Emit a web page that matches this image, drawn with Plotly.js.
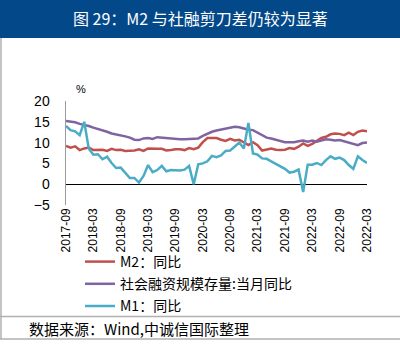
<!DOCTYPE html>
<html><head><meta charset="utf-8">
<script src="https://cdn.plot.ly/plotly-3.0.1.min.js"></script>
<style>html,body{margin:0;padding:0;background:#fff;}#chart{width:400px;height:351px;}</style>
</head><body><div id="chart"></div>
<script>
// Monthly categories 2017-09 .. 2023-03
const months = [
 "2017-09","2017-10","2017-11","2017-12",
 "2018-01","2018-02","2018-03","2018-04","2018-05","2018-06","2018-07","2018-08","2018-09","2018-10","2018-11","2018-12",
 "2019-01","2019-02","2019-03","2019-04","2019-05","2019-06","2019-07","2019-08","2019-09","2019-10","2019-11","2019-12",
 "2020-01","2020-02","2020-03","2020-04","2020-05","2020-06","2020-07","2020-08","2020-09","2020-10","2020-11","2020-12",
 "2021-01","2021-02","2021-03","2021-04","2021-05","2021-06","2021-07","2021-08","2021-09","2021-10","2021-11","2021-12",
 "2022-01","2022-02","2022-03","2022-04","2022-05","2022-06","2022-07","2022-08","2022-09","2022-10","2022-11","2022-12",
 "2023-01","2023-02","2023-03"];
const m2 = [9.2,8.8,9.1,8.2,
 8.6,8.8,8.2,8.3,8.3,8.0,8.5,8.2,8.3,8.0,8.0,8.1,
 8.4,8.0,8.6,8.5,8.5,8.5,8.1,8.2,8.4,8.4,8.2,8.7,
 8.4,8.8,10.1,11.1,11.1,11.1,10.7,10.4,10.9,10.5,10.7,10.1,
 9.4,10.1,9.4,8.1,8.3,8.6,8.3,8.2,8.3,8.7,8.5,9.0,
 9.8,9.2,9.7,10.5,11.1,11.4,12.0,12.2,12.1,11.8,12.4,11.8,
 12.6,12.9,12.7];
const tsf = [15.2,15.0,14.9,14.5,
 14.3,14.0,13.6,13.3,12.9,12.6,12.2,12.0,11.8,11.5,11.2,10.7,
 10.6,11.0,11.1,10.9,11.3,11.2,11.0,11.0,10.9,10.8,10.8,10.9,
 10.9,11.0,11.6,12.2,12.6,12.9,13.1,13.4,13.6,13.8,13.7,13.4,
 13.1,13.0,12.4,11.8,11.2,11.0,10.7,10.4,10.1,10.1,10.1,10.3,
 10.5,10.2,10.5,10.2,10.5,10.8,10.7,10.5,10.6,10.3,10.0,9.6,
 9.4,9.9,10.0];
const m1 = [14.0,13.0,12.7,11.8,
 15.0,8.5,7.1,7.2,6.0,6.6,5.1,3.9,4.0,2.7,1.5,1.5,
 0.4,2.0,4.6,2.9,3.4,4.4,3.1,3.4,3.4,3.3,3.5,4.4,
 0.0,4.8,5.0,5.5,6.8,6.5,6.9,8.0,8.1,9.1,10.0,8.6,
 14.7,7.4,7.1,6.2,6.1,5.5,4.9,4.2,3.7,2.8,3.0,3.5,
 -1.9,4.7,4.7,5.1,4.6,5.8,6.7,6.1,6.4,5.8,4.6,3.7,
 6.7,5.8,5.1];
const tickMonths = ["2017-09","2018-03","2018-09","2019-03","2019-09","2020-03","2020-09","2021-03","2021-09","2022-03","2022-09","2023-03"];
const tickLabels = ["2017-09","2018-03","2018-09","2019-03","2019-09","2020-03","2020-09","2021-03","2021-09","2022-03","2022-09","2022-03"];
const seriesNames = ["M2：同比","社会融资规模存量:当月同比","M1：同比"];
const chartTitle = "图 29：M2 与社融剪刀差仍较为显著";
const sourceText = "数据来源：Wind,中诚信国际整理";

// pixel helpers (plot area: x 66..367, y 101..205)
const L = 66, R = 367, T = 101, B = 205;
const px = p => (p - L) / (R - L);
const py = p => (B - p) / (B - T);

const colors = ["#C0504D", "#8064A2", "#4BACC6"];
const vals = [m2, tsf, m1];
const traces = vals.map((v, i) => ({
  x: months, y: v, type: "scatter", mode: "lines", name: seriesNames[i],
  line: {color: colors[i], width: 2.5}, legendgroup: "g" + i
}));

const cjk = "Noto Sans CJK SC, sans-serif";
const layout = {
  width: 400, height: 351,
  margin: {l: L, r: 400 - R, t: T, b: 351 - B},
  paper_bgcolor: "#fff", plot_bgcolor: "#fff",
  showlegend: true,
  legend: {x: px(80), y: py(246), xanchor: "left", yanchor: "top",
    font: {family: cjk, size: 14, color: "#000"}, tracegroupgap: 1, bgcolor: "rgba(0,0,0,0)"},
  xaxis: {type: "category", range: [0, months.length - 1], tickmode: "array",
    tickvals: tickMonths, ticktext: tickLabels, tickangle: -90,
    tickfont: {family: "Liberation Sans, Arial, sans-serif", size: 12, color: "#000"},
    showgrid: false, showline: false, zeroline: false, ticks: "", fixedrange: true},
  yaxis: {range: [-5, 20], tickvals: [-5, 0, 5, 10, 15, 20], ticktext: ["−5","0","5","10","15","20"],
    tickfont: {family: "Liberation Sans, Arial, sans-serif", size: 14, color: "#000"},
    ticklabelstandoff: 12,
    showgrid: false, showline: true, linecolor: "#9a9a9a", linewidth: 1.5,
    zeroline: true, zerolinecolor: "#000", zerolinewidth: 1, ticks: "", ticklen: 0, fixedrange: true},
  shapes: [
    {type: "rect", xref: "paper", yref: "paper", x0: px(0), x1: px(400), y0: py(0), y1: py(38),
      fillcolor: "#03498A", line: {width: 0}, layer: "below"},
    {type: "line", xref: "paper", yref: "paper", x0: px(1), x1: px(1), y0: py(38), y1: py(339),
      line: {color: "#b0b0b0", width: 1.5}},
    {type: "line", xref: "paper", yref: "paper", x0: px(0), x1: px(400), y0: py(316.5), y1: py(316.5),
      line: {color: "#b0b0b0", width: 1.5}},
    {type: "line", xref: "paper", yref: "paper", x0: px(0), x1: px(400), y0: py(339), y1: py(339),
      line: {color: "#b0b0b0", width: 1.5}}
  ],
  annotations: [
    {text: chartTitle, xref: "paper", yref: "paper", x: px(200), y: py(18), xanchor: "center", yanchor: "middle",
      showarrow: false, font: {family: cjk, size: 16, color: "#fff"}},
    {text: "%", xref: "paper", yref: "paper", x: px(81), y: py(89), xanchor: "center", yanchor: "middle",
      showarrow: false, font: {family: "Liberation Sans, Arial, sans-serif", size: 11, color: "#000"}},
    {text: sourceText, xref: "paper", yref: "paper", x: px(27), y: py(328), xanchor: "left", yanchor: "middle",
      showarrow: false, font: {family: cjk, size: 15, color: "#000"}}
  ]
};
Plotly.newPlot("chart", traces, layout, {displayModeBar: false, staticPlot: true});
</script></body></html>
